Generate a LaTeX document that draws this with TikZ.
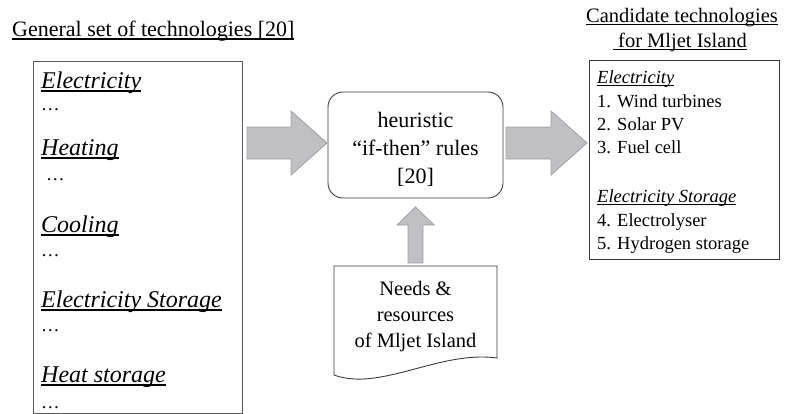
\documentclass[tikz,border=0pt]{standalone}
\usepackage{fontspec}
\setmainfont{Liberation Serif}
\definecolor{arrowfill}{RGB}{192,192,196}
\definecolor{arrowline}{RGB}{160,160,166}
\definecolor{boxline}{RGB}{60,60,60}
\newcommand{\ulin}[1]{\leavevmode\setbox0=\hbox{#1}\rlap{\rule[-0.16em]{\wd0}{0.075em}}\box0}
\newcommand{\fsz}[1]{\fontsize{#1}{#1}\selectfont}
\tikzset{
  blockarrow/.style={fill=arrowfill, draw=arrowline, line width=0.8pt, line join=miter},
  plainbox/.style={draw=boxline, line width=0.9pt},
  lefttxt/.style={anchor=base west, inner sep=0pt, font=\fsz{24}},
  dotstxt/.style={anchor=base west, inner sep=0pt, font=\fsz{18.5}},
  righttxt/.style={anchor=base west, inner sep=0pt, font=\fsz{18.5}},
  midtxt/.style={anchor=base, inner sep=0pt, font=\fsz{22}},
  doctxt/.style={anchor=base, inner sep=0pt, font=\fsz{20.5}},
  headtxt/.style={inner sep=0pt}
}
\begin{document}
\begin{tikzpicture}[x=1pt,y=-1pt]
\useasboundingbox (0,0) rectangle (789,413);
% headings
\node[headtxt, anchor=base west, font=\fsz{22}] (hleft) at (12,36) {\ulin{General set of technologies [20]}};
\node[headtxt, anchor=base, font=\fsz{20.5}] (hright1) at (682,22) {\ulin{Candidate technologies}};
\node[headtxt, anchor=base, font=\fsz{20.5}] (hright2) at (680,47) {\ulin{\hspace{0.25em}for Mljet Island}};
% left box
\node[plainbox, draw=boxline!85, anchor=north west, minimum width=209pt, minimum height=351.5pt, inner sep=0pt] (general) at (33,61) {};
\node[lefttxt] (l1) at (41,88) {\ulin{\textit{Electricity}}};
\node[dotstxt] (l1d) at (41,110) {…};
\node[lefttxt] (l2) at (41,155) {\ulin{\textit{Heating}}};
\node[dotstxt] (l2d) at (46,180) {…};
\node[lefttxt] (l3) at (41,232) {\ulin{\textit{Cooling}}};
\node[dotstxt] (l3d) at (41,256) {…};
\node[lefttxt] (l4) at (41,307) {\ulin{\textit{Electricity Storage}}};
\node[dotstxt] (l4d) at (41,331) {…};
\node[lefttxt] (l5) at (41,382) {\ulin{\textit{Heat storage}}};
\node[dotstxt] (l5d) at (41,408) {…};
% center rounded box
\node[plainbox, rounded corners=15pt, minimum width=175pt, minimum height=106pt, inner sep=0pt] (rules) at (415.5,145) {};
\node[midtxt] (r1) at (415.5,127) {heuristic};
\node[midtxt] (r2) at (415.5,155) {“if-then” rules};
\node[midtxt] (r3) at (415.5,183) {[20]};
% document shape
\coordinate (dtl) at (334,266);
\coordinate (dtr) at (497,266);
\coordinate (dbr) at (497,358);
\coordinate (dbl) at (334,375);
\draw[plainbox, line join=miter] (dbl) -- (dtl) -- (dtr) -- (dbr) .. controls (440,350) and (380,392) .. (dbl);
\node[doctxt] (n1) at (415.5,295) {Needs \&};
\node[doctxt] (n2) at (415.5,321) {resources};
\node[doctxt] (n3) at (415.5,347) {of Mljet Island};
% right box
\node[plainbox, anchor=north west, minimum width=190pt, minimum height=199pt, inner sep=0pt] (cand) at (589,60) {};
\node[righttxt] (c1) at (597,83) {\ulin{\textit{Electricity}}};
\node[righttxt] (c2) at (597,107) {1. Wind turbines};
\node[righttxt] (c3) at (597,130) {2. Solar PV};
\node[righttxt] (c4) at (597,153) {3. Fuel cell};
\node[righttxt] (c5) at (597,202) {\ulin{\textit{Electricity Storage}}};
\node[righttxt] (c6) at (597,226) {4. Electrolyser};
\node[righttxt] (c7) at (597,249) {5. Hydrogen storage};
% block arrows
\draw[blockarrow] (247,127) -- (291,127) -- (291,111) -- (327,143) -- (291,175) -- (291,159) -- (247,159) -- cycle;
\draw[blockarrow] (506,127) -- (551,127) -- (551,111) -- (587,143) -- (551,175) -- (551,159) -- (506,159) -- cycle;
\draw[blockarrow] (408,263) -- (408,225) -- (397,225) -- (415.5,207) -- (434,225) -- (423,225) -- (423,263) -- cycle;
\end{tikzpicture}
\end{document}
